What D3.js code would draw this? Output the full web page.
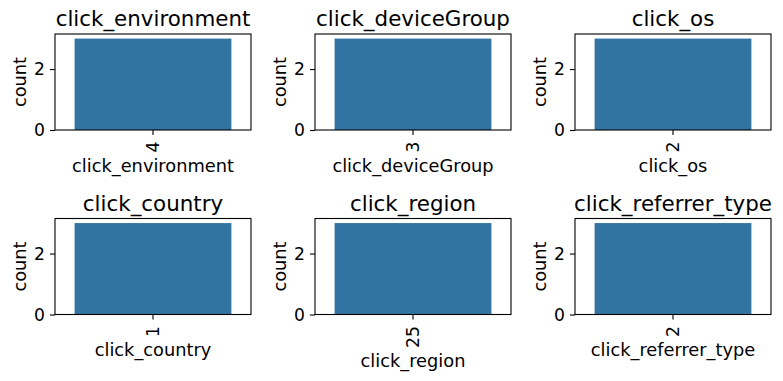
<!DOCTYPE html>
<html>
<head>
<meta charset="utf-8">
<script src="https://cdn.jsdelivr.net/npm/d3@7"></script>
<style>
  body { margin: 0; background: #fff; }
  svg { font-family: "DejaVu Sans", sans-serif; }
</style>
</head>
<body>
<div id="chart"></div>
<script>
// 각 변수별 countplot 데이터
const columns = ["click_environment", "click_deviceGroup", "click_os", "click_country", "click_region", "click_referrer_type"];
const categories = ["4", "3", "2", "1", "25", "2"];
const counts = [3, 3, 3, 3, 3, 3];
const yTicks = [0, 2];

const W = 783, H = 381;
const lefts = [55, 315, 575];
const tops = [34, 218.5];
const aw = 196, ah = 96;
const barColor = "#3274a1";
const fs = "17.8px";
const tickFs = "17.2px";

const svg = d3.select("#chart").append("svg")
  .attr("width", W)
  .attr("height", H);

columns.forEach((col, i) => {
  const left = lefts[i % 3];
  const top = tops[Math.floor(i / 3)];

  const x = d3.scaleBand()
    .domain([categories[i]])
    .range([0, aw])
    .paddingInner(0.2)
    .paddingOuter(0.1);
  const y = d3.scaleLinear().domain([0, 3.15]).range([ah, 0]);

  const g = svg.append("g").attr("transform", `translate(${left},${top})`);

  // 막대
  g.append("rect")
    .attr("x", x(categories[i]))
    .attr("y", y(counts[i]))
    .attr("width", x.bandwidth())
    .attr("height", y(0) - y(counts[i]))
    .attr("fill", barColor);

  // y축
  const yAxis = g.append("g")
    .call(d3.axisLeft(y).tickValues(yTicks).tickFormat(d3.format("d")).tickSize(5).tickPadding(5));
  yAxis.select(".domain").remove();
  yAxis.selectAll("line").attr("stroke", "#000").attr("stroke-width", 1.1);
  yAxis.selectAll("text")
    .attr("fill", "#000")
    .style("font-size", tickFs)
    .style("font-family", "DejaVu Sans");

  // x축 (라벨 90도 회전)
  const xAxis = g.append("g")
    .attr("transform", `translate(0,${ah})`)
    .call(d3.axisBottom(x).tickSize(5));
  xAxis.select(".domain").remove();
  xAxis.selectAll("line").attr("stroke", "#000").attr("stroke-width", 1.1);
  const tickText = xAxis.selectAll("text")
    .attr("fill", "#000")
    .style("font-size", tickFs)
    .style("font-family", "DejaVu Sans")
    .attr("transform", "rotate(-90)")
    .attr("text-anchor", "end")
    .attr("x", -11.5)
    .attr("y", 0)
    .attr("dy", "0.35em");

  // 테두리
  g.append("rect")
    .attr("width", aw)
    .attr("height", ah)
    .attr("fill", "none")
    .attr("stroke", "#000")
    .attr("stroke-width", 1.1);

  const tickLen = tickText.node().getComputedTextLength();

  // x축 라벨
  g.append("text")
    .attr("x", aw / 2)
    .attr("y", ah + 11.5 + tickLen + 19.5)
    .attr("text-anchor", "middle")
    .style("font-size", fs)
    .text(col);

  // y축 라벨
  g.append("text")
    .attr("transform", `translate(-29.5,${ah / 2}) rotate(-90)`)
    .attr("text-anchor", "middle")
    .style("font-size", fs)
    .text("count");

  // 제목
  g.append("text")
    .attr("x", aw / 2)
    .attr("y", -8)
    .attr("text-anchor", "middle")
    .style("font-size", "21.4px")
    .text(col);
});
</script>
</body>
</html>
